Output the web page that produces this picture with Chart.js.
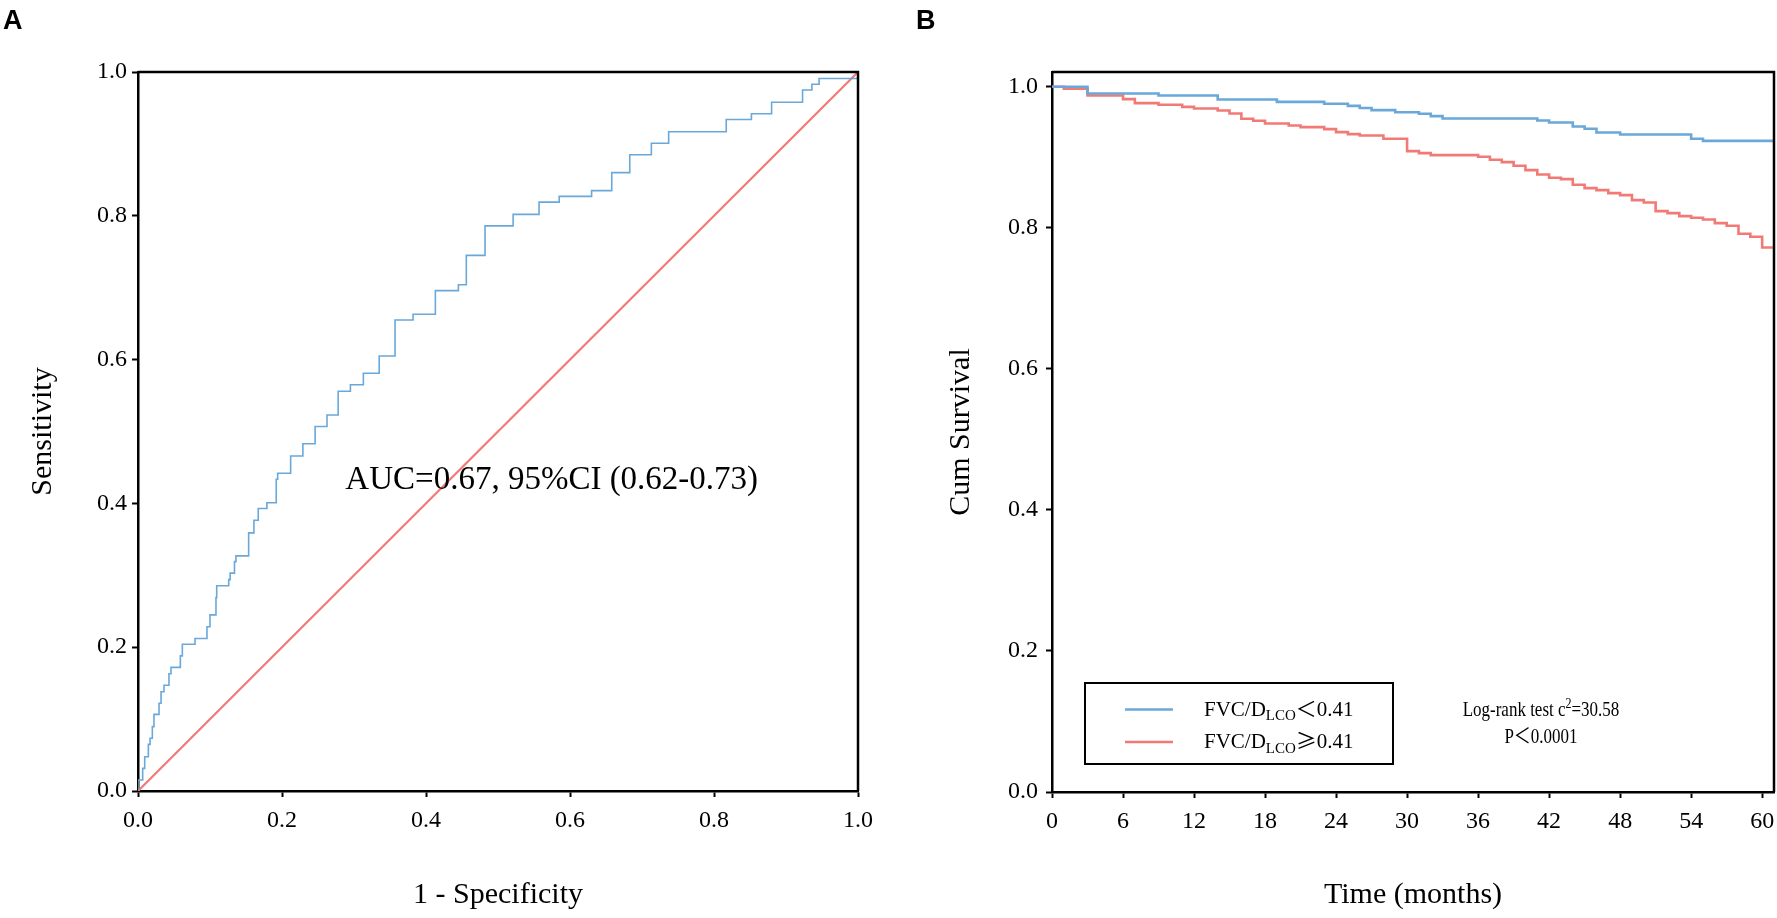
<!DOCTYPE html>
<html>
<head>
<meta charset="utf-8">
<script src="https://cdn.jsdelivr.net/npm/chart.js@4.4.1/dist/chart.umd.min.js"></script>
<style>
  html, body { margin: 0; padding: 0; background: #fff; }
  #wrap { position: relative; width: 1777px; height: 918px; overflow: hidden; background: #fff; }
  canvas { position: absolute; top: 0; }
</style>
</head>
<body>
<div id="wrap">
  <canvas id="roc" width="888" height="918" style="left:0"></canvas>
  <canvas id="km" width="889" height="918" style="left:888px"></canvas>
</div>
<script>
// ---- panel A: ROC curve (vertical step at each fpr, tpr after the step)
const rocFpr = [0, 0.0065, 0.0093, 0.0144, 0.0167, 0.0199, 0.0222, 0.0292, 0.032, 0.0361,
  0.043, 0.0458, 0.0588, 0.0616, 0.0792, 0.0958, 0.100, 0.1083, 0.1093, 0.126,
  0.128, 0.134, 0.136, 0.153, 0.154, 0.161, 0.167, 0.179, 0.192, 0.194,
  0.212, 0.229, 0.246, 0.2625, 0.278, 0.295, 0.313, 0.335, 0.357, 0.382,
  0.413, 0.445, 0.456, 0.482, 0.521, 0.557, 0.585, 0.630, 0.658, 0.683,
  0.713, 0.737, 0.817, 0.852, 0.880, 0.923, 0.936, 0.946, 1.0];
const rocTpr = [0.0153, 0.0315, 0.0477, 0.0649, 0.0733, 0.0895, 0.1066, 0.122, 0.138, 0.147,
  0.163, 0.172, 0.188, 0.204, 0.212, 0.2285, 0.245, 0.269, 0.2855, 0.294,
  0.303, 0.319, 0.327, 0.3435, 0.359, 0.3765, 0.393, 0.401, 0.4335, 0.442,
  0.466, 0.483, 0.507, 0.523, 0.556, 0.565, 0.581, 0.605, 0.655, 0.663,
  0.696, 0.704, 0.745, 0.786, 0.802, 0.819, 0.827, 0.835, 0.860, 0.885,
  0.901, 0.917, 0.934, 0.942, 0.958, 0.975, 0.983, 0.991, 1.0];
const refX = [0, 1];
const refY = [0, 1];
const rocTicks = [0, 0.2, 0.4, 0.6, 0.8, 1.0];
const aucText = 'AUC=0.67, 95%CI (0.62-0.73)';

// ---- panel B: Kaplan-Meier curves (month of each drop, survival after it)
const lowTime = [3, 9, 14, 19, 23, 25, 26, 27, 29, 31, 32, 33, 41, 42, 44, 45, 46, 48, 54, 55];
const lowSurv = [0.9905, 0.9877, 0.982, 0.9787, 0.976, 0.973, 0.970, 0.967, 0.964, 0.9617,
  0.9584, 0.955, 0.9523, 0.9494, 0.9438, 0.9405, 0.9353, 0.9324, 0.9263, 0.9234];
const highTime = [1, 3, 6, 7, 9, 11, 12, 14, 15, 16, 17, 18, 20, 21, 23, 24, 25, 26, 28, 30,
  31, 32, 36, 37, 38, 39, 40, 41, 42, 43, 44, 45, 46, 47, 48, 49, 50, 51, 52, 53,
  54, 55, 56, 57, 58, 59, 60];
const highSurv = [0.9972, 0.9877, 0.9825, 0.9768, 0.9745, 0.9716, 0.9693, 0.9664, 0.9622, 0.9546,
  0.9518, 0.948, 0.9452, 0.9428, 0.94, 0.9357, 0.9329, 0.931, 0.9263, 0.9088,
  0.906, 0.9031, 0.9008, 0.8965, 0.8932, 0.888, 0.8819, 0.8757, 0.871, 0.8691,
  0.8611, 0.8563, 0.8535, 0.8492, 0.8464, 0.8393, 0.836, 0.8237, 0.8209, 0.8166,
  0.8143, 0.8119, 0.8067, 0.8029, 0.7916, 0.7873, 0.7722];
const monthTicks = [0, 6, 12, 18, 24, 30, 36, 42, 48, 54, 60];
const survTicks = [0, 0.2, 0.4, 0.6, 0.8, 1.0];
const followUpEnd = 61;

const BLUE = '#6aa8da';
const RED = '#f27a76';
const SERIF = '"Liberation Serif", "Times New Roman", serif';
const CJK = '"Noto Sans CJK SC", sans-serif';

// step line: flat at previous value, drop/rise at each x
function stepPoints(xs, ys, x0, y0, xEnd) {
  const pts = [{x: x0, y: y0}];
  let prev = y0;
  xs.forEach((x, i) => {
    pts.push({x: x, y: prev});
    pts.push({x: x, y: ys[i]});
    prev = ys[i];
  });
  if (xEnd !== undefined) pts.push({x: xEnd, y: prev});
  return pts;
}

function axis(opts) {
  return {
    type: 'linear',
    min: opts.min,
    max: opts.max,
    afterBuildTicks: s => { s.ticks = opts.ticks.map(v => ({value: v})); },
    afterFit: opts.fit,
    ticks: {
      font: {family: SERIF, size: 24},
      color: '#000',
      padding: opts.pad,
      maxRotation: 0,
      autoSkip: false,
      callback: opts.fmt
    },
    grid: {display: true, drawOnChartArea: false, drawTicks: true, tickLength: 6, tickWidth: 2, tickColor: '#000'},
    border: {display: true, color: '#000', width: 2.5},
    title: {display: true, text: opts.title, color: '#000',
      font: {family: SERIF, size: 30, lineHeight: 1.2}, padding: opts.titlePad}
  };
}

const framePlugin = {
  id: 'frame',
  afterDraw(chart) {
    const {ctx, chartArea: a} = chart;
    ctx.save();
    ctx.strokeStyle = '#000';
    ctx.lineWidth = 2.5;
    ctx.beginPath();
    ctx.moveTo(a.left, a.top);
    ctx.lineTo(a.right, a.top);
    ctx.lineTo(a.right, a.bottom);
    ctx.stroke();
    ctx.restore();
  }
};

function panelLabel(ctx, txt, x) {
  ctx.save();
  ctx.fillStyle = '#000';
  ctx.font = 'bold 27px "Liberation Sans", Arial, sans-serif';
  ctx.textBaseline = 'alphabetic';
  ctx.fillText(txt, x, 29);
  ctx.restore();
}

// ---------- A ----------
new Chart(document.getElementById('roc'), {
  type: 'scatter',
  data: {
    datasets: [
      {data: stepPoints(rocFpr, rocTpr, 0, 0), showLine: true, borderColor: BLUE, borderWidth: 1.6, pointRadius: 0},
      {data: refX.map((x, i) => ({x: x, y: refY[i]})), showLine: true, borderColor: RED, borderWidth: 2.2, pointRadius: 0}
    ]
  },
  options: {
    responsive: false,
    animation: false,
    devicePixelRatio: 1,
    layout: {padding: {left: 0, top: 72, right: 30, bottom: 0}},
    plugins: {legend: {display: false}, tooltip: {enabled: false}},
    scales: {
      x: axis({min: 0, max: 1, ticks: rocTicks, pad: 9, fmt: v => v.toFixed(1), title: '1 - Specificity',
        titlePad: {top: 0, bottom: 5},
        fit: s => { s.height = 127; s.paddingLeft = 0; s.paddingRight = 0; }}),
      y: axis({min: 0, max: 1, ticks: rocTicks, pad: 5, fmt: v => v.toFixed(1), title: 'Sensitivity',
        titlePad: {top: 25, bottom: 0},
        fit: s => { s.width = 138; s.paddingTop = 0; s.paddingBottom = 0; }})
    }
  },
  plugins: [framePlugin, {
    id: 'rocText',
    afterDraw(chart) {
      const {ctx, scales: {x, y}} = chart;
      ctx.save();
      ctx.fillStyle = '#000';
      ctx.font = '33px ' + SERIF;
      ctx.textBaseline = 'alphabetic';
      ctx.fillText(aucText, x.getPixelForValue(0.288), y.getPixelForValue(0.42));
      ctx.restore();
      panelLabel(ctx, 'A', 3);
    }
  }]
});

// ---------- B ----------
function richText(ctx, parts, x, y, sy) {
  // parts: [text, font, dy]; sy stretches the text vertically
  sy = sy || 1;
  let cx = x;
  parts.forEach(p => {
    ctx.font = p[1];
    ctx.save();
    ctx.translate(cx, y + (p[2] || 0));
    ctx.scale(1, sy);
    ctx.fillText(p[0], 0, 0);
    ctx.restore();
    cx += ctx.measureText(p[0]).width;
  });
  return cx - x;
}
function measureRich(ctx, parts) {
  let w = 0;
  parts.forEach(p => { ctx.font = p[1]; w += ctx.measureText(p[0]).width; });
  return w;
}

const F21 = '21px ' + SERIF;
const F15 = '15px ' + SERIF;
const FC = '21px ' + CJK;
const T17 = '17px ' + SERIF;
const T12 = '12px ' + SERIF;
const TC = '17px ' + CJK;
const legendItems = [
  {color: BLUE, parts: [['FVC/D', F21], ['LCO', F15, 4.5], ['＜', FC], ['0.41', F21]]},
  {color: RED, parts: [['FVC/D', F21], ['LCO', F15, 4.5], ['≥', FC], ['0.41', F21]]}
];
const testLines = [
  [['Log-rank test c', T17], ['2', T12, -8], ['=30.58', T17]],
  [['P', T17], ['＜', TC], ['0.0001', T17]]
];

new Chart(document.getElementById('km'), {
  type: 'scatter',
  data: {
    datasets: [
      {data: stepPoints(lowTime, lowSurv, 0, 1, followUpEnd), showLine: true, borderColor: BLUE, borderWidth: 2.6, pointRadius: 0},
      {data: stepPoints(highTime, highSurv, 0, 1, followUpEnd), showLine: true, borderColor: RED, borderWidth: 2.6, pointRadius: 0}
    ]
  },
  options: {
    responsive: false,
    animation: false,
    devicePixelRatio: 1,
    layout: {padding: {left: 0, top: 72, right: 3, bottom: 0}},
    plugins: {legend: {display: false}, tooltip: {enabled: false}},
    scales: {
      x: axis({min: 0, max: followUpEnd, ticks: monthTicks, pad: 9, fmt: v => String(v), title: 'Time (months)',
        titlePad: {top: 0, bottom: 5},
        fit: s => { s.height = 126; s.paddingLeft = 0; s.paddingRight = 0; }}),
      y: axis({min: 0, max: 1.021, ticks: survTicks, pad: 8, fmt: v => v.toFixed(1), title: 'Cum Survival',
        titlePad: {top: 55, bottom: 0},
        fit: s => { s.width = 164; s.paddingTop = 0; s.paddingBottom = 0; }})
    }
  },
  plugins: [framePlugin, {
    id: 'kmText',
    afterDraw(chart) {
      const {ctx, chartArea: a} = chart;
      ctx.save();
      // legend box
      const L = a.left + 33, T = a.bottom - 109, W = 308, H = 81;
      ctx.strokeStyle = '#000';
      ctx.lineWidth = 2;
      ctx.strokeRect(L, T, W, H);
      ctx.fillStyle = '#000';
      ctx.textBaseline = 'alphabetic';
      legendItems.forEach((it, i) => {
        const ly = T + 26.5 + i * 32.5;
        ctx.strokeStyle = it.color;
        ctx.lineWidth = 2.6;
        ctx.beginPath();
        ctx.moveTo(L + 40, ly);
        ctx.lineTo(L + 88, ly);
        ctx.stroke();
        richText(ctx, it.parts, L + 119, ly + 6);
      });
      // log-rank test
      const cx = a.left + 489;
      testLines.forEach((parts, i) => {
        const w = measureRich(ctx, parts);
        richText(ctx, parts, cx - w / 2, a.bottom - 76 + i * 27.3, 1.25);
      });
      ctx.restore();
      panelLabel(ctx, 'B', 28);
    }
  }]
});
</script>
</body>
</html>
